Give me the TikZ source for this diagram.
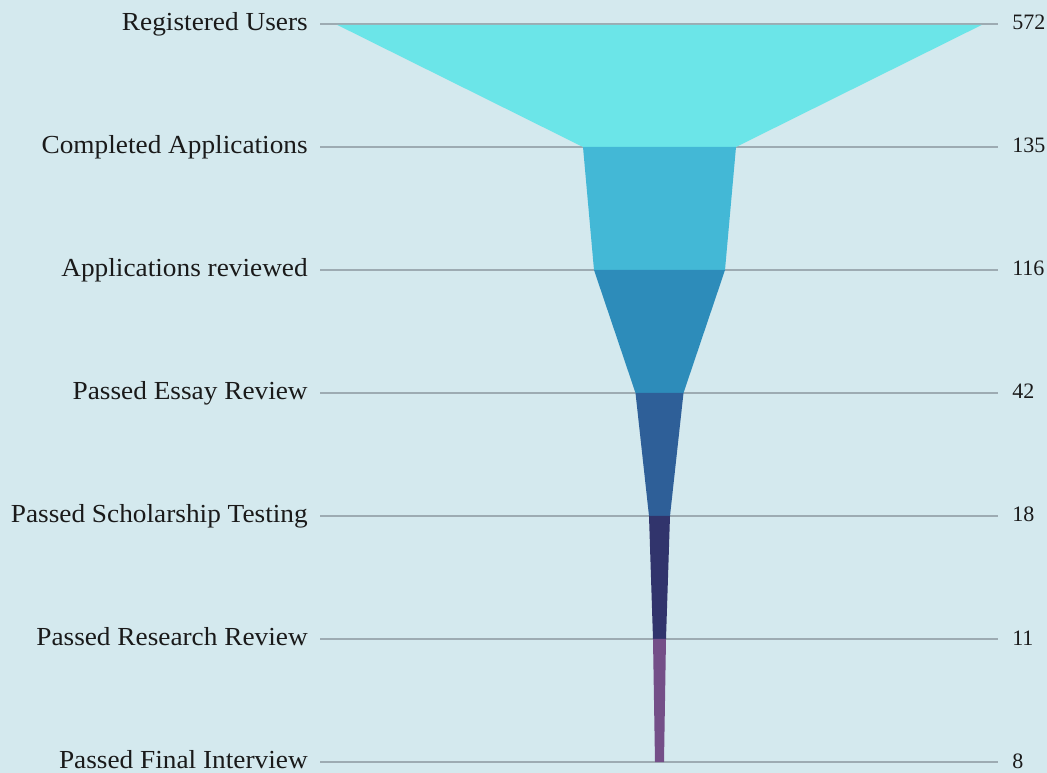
\documentclass[tikz,border=0pt]{standalone}
\usepackage{fontspec}
\setmainfont{Liberation Serif}
\newfontfamily\lblfont[FakeStretch=1.05]{Liberation Serif}
\definecolor{bg}{HTML}{D4E9EE}
\definecolor{gridc}{HTML}{9DABB2}
\definecolor{txt}{HTML}{1A1A1A}
\definecolor{cA}{HTML}{6BE5E8}
\definecolor{cB}{HTML}{43B8D6}
\definecolor{cC}{HTML}{2D8CBA}
\definecolor{cD}{HTML}{2E5F98}
\definecolor{cE}{HTML}{31346C}
\definecolor{cF}{HTML}{744F88}
\begin{document}
\begin{tikzpicture}[x=0.75pt,y=-0.75pt,
  lbl/.style={font=\lblfont\fontsize{19.5}{22}\selectfont, text=txt, inner sep=0pt, anchor=base east},
  num/.style={font=\fontsize{16.5}{18}\selectfont, text=txt, inner sep=0pt, anchor=base west},
  gridline/.style={draw=gridc, line width=1.3pt},
  seg/.style={draw=none}]
\fill[bg] (0,0) rectangle (1047,773);
\useasboundingbox (0,0) rectangle (1047,773);
% grid lines
\foreach \yy [count=\i] in {24,147,270,393,516,639,762}{
  \coordinate (gl\i) at (320,\yy);
  \coordinate (gr\i) at (998,\yy);
  \draw[gridline] (gl\i) -- (gr\i);
}
% funnel segments
\fill[seg, cA] (337,24.8) -- (982,24.8) -- (736,147) -- (583,147) -- cycle;
\fill[seg, cB] (583,147) -- (736,147) -- (725,270) -- (594,270) -- cycle;
\fill[seg, cC] (594,270) -- (725,270) -- (683.5,393) -- (635.5,393) -- cycle;
\fill[seg, cD] (635.5,393) -- (683.5,393) -- (670,516) -- (649,516) -- cycle;
\fill[seg, cE] (649,516) -- (670,516) -- (666,639) -- (653,639) -- cycle;
\fill[seg, cF] (653,639) -- (666,639) -- (664,762) -- (655,762) -- cycle;
% labels
\node[lbl] (l1) at (308,31) {Registered Users};
\node[lbl] (l2) at (308,154) {Completed Applications};
\node[lbl] (l3) at (308,277) {Applications reviewed};
\node[lbl] (l4) at (308,400) {Passed Essay Review};
\node[lbl] (l5) at (308,523) {Passed Scholarship Testing};
\node[lbl] (l6) at (308,646) {Passed Research Review};
\node[lbl] (l7) at (308,768) {Passed Final Interview};
% values
\node[num] (n1) at (1012,30) {572};
\node[num] (n2) at (1012,153) {135};
\node[num] (n3) at (1012,276) {116};
\node[num] (n4) at (1012,399) {42};
\node[num] (n5) at (1012,522) {18};
\node[num] (n6) at (1012,645) {11};
\node[num] (n7) at (1012,768) {8};
\end{tikzpicture}
\end{document}
